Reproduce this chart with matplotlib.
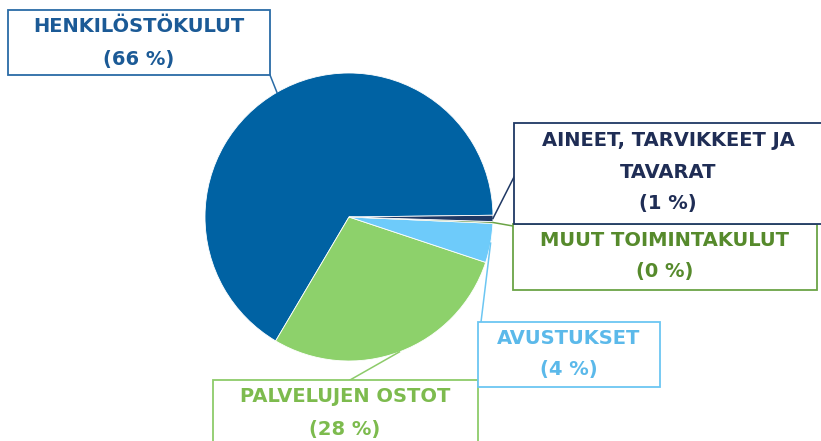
import numpy as np
import matplotlib.pyplot as plt
from matplotlib.patches import Rectangle

# slice data (counterclockwise from startangle)
names = ["HENKILÖSTÖKULUT", "PALVELUJEN OSTOT", "AVUSTUKSET",
         "MUUT TOIMINTAKULUT", "AINEET, TARVIKKEET JA\nTAVARAT"]
values = [66.3, 28.4, 4.4, 0.2, 0.7]
pct_labels = ["66 %", "28 %", "4 %", "0 %", "1 %"]

wedge_cols = ["#0062A3", "#8DD16B", "#6ECBFA", "#5B9035", "#1F3864"]
text_cols = ["#1B5A96", "#7DBB4E", "#5BB9EA", "#568A2C", "#1F2D55"]
box_cols = ["#2A6BA6", "#8DCB6A", "#6CC6F2", "#6BA446", "#1F3864"]

W, H = 821, 441
def Y(y):
    return H - y

# boxes in pixel coords: x0, y0(top), x1, y1(bottom); text centre x; first line y
boxes = [(8, 10, 270, 75, 139, 27),
         (213, 380, 478, 460, 345, 397),
         (478, 322, 660, 387, 569, 338),
         (513, 224, 817, 290, 665, 240),
         (514, 123, 830, 224, 668, 140)]
# where leader lines meet the box
anchors = [(270, 75), (350, 380), (481, 322), (513, 226), (514, 177)]

fig = plt.figure(figsize=(W/100, H/100), dpi=100)
ax = fig.add_axes([0, 0, 1, 1])
cx, cy, r = 349, Y(217), 144
wedges, _ = ax.pie(values, colors=wedge_cols, startangle=0.7, radius=r,
                   center=(cx, cy), counterclock=True,
                   wedgeprops=dict(linewidth=0.6, edgecolor="white"))
ax.set_xlim(0, W)
ax.set_ylim(0, H)
ax.axis("off")

for i, w in enumerate(wedges):
    mid = np.deg2rad((w.theta1 + w.theta2) / 2)
    px, py = cx + r*np.cos(mid), cy + r*np.sin(mid)
    ax.plot([px, anchors[i][0]], [py, Y(anchors[i][1])], color=box_cols[i], lw=1.1, zorder=3)

for i, (x0, y0, x1, y1, tx, ty) in enumerate(boxes):
    ax.add_patch(Rectangle((x0, Y(y1)), x1-x0, y1-y0, facecolor="white",
                           edgecolor=box_cols[i], lw=1.3, zorder=4))
    lines = names[i].split("\n") + ["(" + pct_labels[i] + ")"]
    for k, s in enumerate(lines):
        ax.text(tx, Y(ty + 32*k), s, ha="center", va="center", color=text_cols[i],
                fontsize=14, fontweight="bold", family="DejaVu Sans", zorder=5)

fig.savefig("out.png", dpi=100)
